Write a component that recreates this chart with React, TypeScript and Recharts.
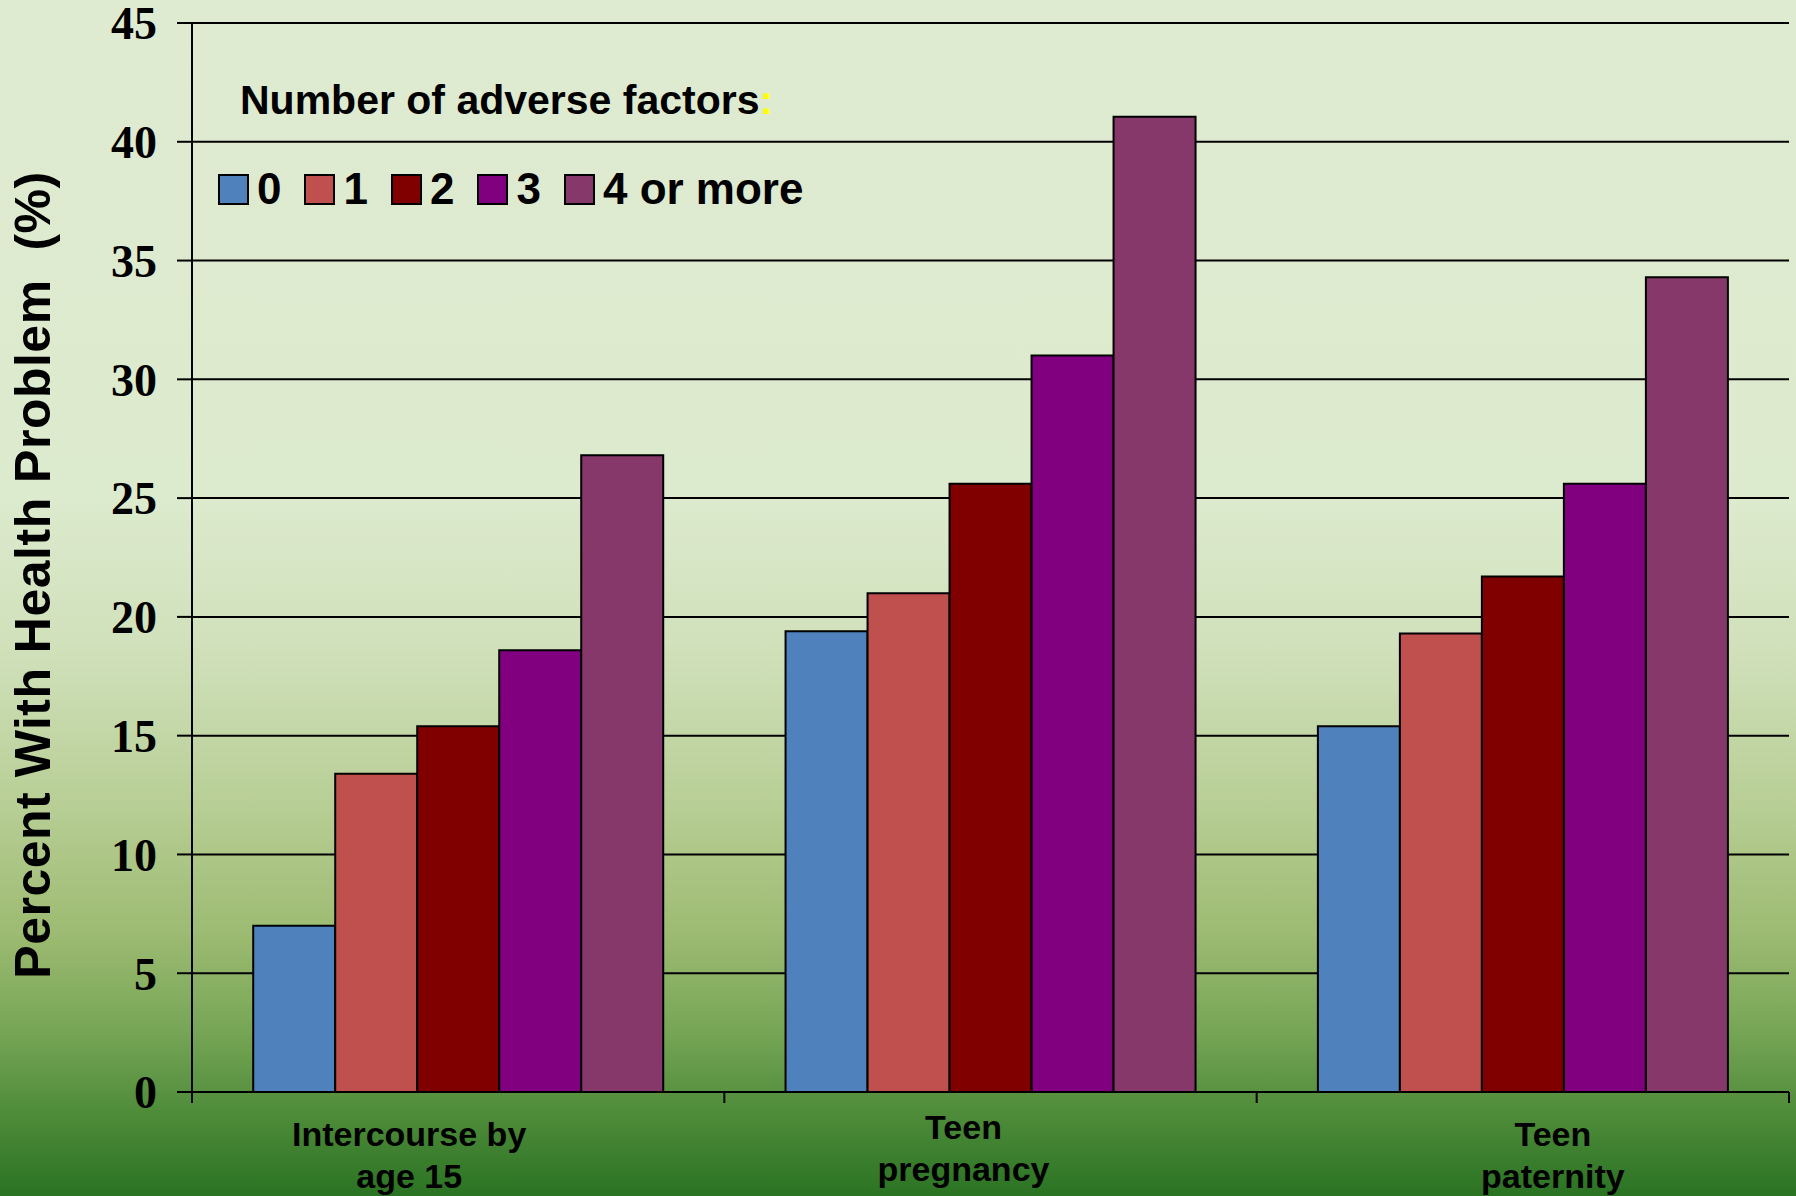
import React from 'react';
import { BarChart, Bar, XAxis, YAxis, CartesianGrid } from 'recharts';

const categories = ['Intercourse by\nage 15', 'Teen\npregnancy', 'Teen\npaternity'];
const factors0 = [7.0, 19.4, 15.4];
const factors1 = [13.4, 21.0, 19.3];
const factors2 = [15.4, 25.6, 21.7];
const factors3 = [18.6, 31.0, 25.6];
const factors4 = [26.8, 41.05, 34.3];
const yTicks = [0, 5, 10, 15, 20, 25, 30, 35, 40, 45];

const seriesNames = ['0', '1', '2', '3', '4 or more'];
const seriesKeys = ['f0', 'f1', 'f2', 'f3', 'f4'];
const seriesColors = ['#4f81bd', '#c0504d', '#800000', '#800080', '#86386a'];

const data = categories.map((c, i) => ({
  name: c,
  f0: factors0[i],
  f1: factors1[i],
  f2: factors2[i],
  f3: factors3[i],
  f4: factors4[i],
}));

const W = 1796;
const H = 1196;
const PLOT_LEFT = 192;
const PLOT_RIGHT = 1789;
const BAND = (PLOT_RIGHT - PLOT_LEFT) / categories.length;

// the original labels are nudged a bit off the category centres
const labelShift = [
  { dx: -49, dy: 0 },
  { dx: -27, dy: -7 },
  { dx: 30, dy: 0 },
];

const sans = '"Liberation Sans", Arial, sans-serif';
const serif = '"Liberation Serif", "Times New Roman", serif';

const CategoryTick = ({ x, y, payload, index }: any) => {
  const lines = String(payload.value).split('\n');
  const shift = labelShift[index] || { dx: 0, dy: 0 };
  const left = x - BAND / 2;
  return (
    <g>
      <line x1={left} y1={y} x2={left} y2={y + 11} stroke="#000" strokeWidth={2} />
      {index === categories.length - 1 && (
        <line x1={left + BAND} y1={y} x2={left + BAND} y2={y + 11} stroke="#000" strokeWidth={2} />
      )}
      <text
        x={x + shift.dx}
        y={y + 54 + shift.dy}
        textAnchor="middle"
        fontFamily={sans}
        fontWeight="bold"
        fontSize={34}
        fill="#000"
      >
        {lines.map((l, i) => (
          <tspan key={i} x={x + shift.dx} dy={i === 0 ? 0 : 42}>
            {l}
          </tspan>
        ))}
      </text>
    </g>
  );
};

const LegendBox = () => (
  <div
    style={{
      position: 'absolute',
      left: 218,
      top: 78,
      fontFamily: sans,
      fontWeight: 'bold',
      color: '#000',
      zIndex: 2,
    }}
  >
    <div style={{ fontSize: 41, lineHeight: '44px', marginLeft: 22, whiteSpace: 'nowrap' }}>
      Number of adverse factors<span style={{ color: '#ffff00' }}>:</span>
    </div>
    <div style={{ display: 'flex', alignItems: 'center', marginTop: 45 }}>
      {seriesNames.map((n, i) => (
        <div key={n} style={{ display: 'flex', alignItems: 'center', marginRight: 23 }}>
          <div
            style={{
              width: 27,
              height: 27,
              background: seriesColors[i],
              border: '2px solid #000',
              marginRight: 8,
            }}
          />
          <span style={{ fontSize: 44, lineHeight: '44px', whiteSpace: 'nowrap' }}>{n}</span>
        </div>
      ))}
    </div>
  </div>
);

export default function App() {
  return (
    <div
      style={{
        position: 'absolute',
        left: 0,
        top: 0,
        width: W,
        height: H,
        overflow: 'hidden',
        background:
          'linear-gradient(to bottom, #dfebd1 0%, #dceacd 42%, #cfe0b9 55%, #b6cd93 68%, #9dbb72 78%, #77a656 86%, #4f8c3a 93%, #2a7323 100%)',
      }}
    >
      <div
        style={{
          position: 'absolute',
          left: 33,
          top: 575,
          transform: 'translate(-50%, -50%) rotate(-90deg)',
          whiteSpace: 'pre',
          fontFamily: sans,
          fontWeight: 'bold',
          fontSize: 50,
          letterSpacing: 0.5,
          color: '#000',
        }}
      >
        {'Percent With Health Problem  (%)'}
      </div>
      <BarChart
        width={W}
        height={H}
        data={data}
        margin={{ top: 23, right: W - PLOT_RIGHT, bottom: 4, left: PLOT_LEFT - 80 }}
        barCategoryGap="11.5%"
        barGap={0}
        style={{ position: 'absolute', left: 0, top: 0 }}
      >
        <CartesianGrid vertical={false} stroke="#000" strokeWidth={2} />
        <XAxis
          dataKey="name"
          height={100}
          axisLine={{ stroke: '#000', strokeWidth: 2 }}
          tickLine={false}
          tickSize={0}
          tickMargin={0}
          interval={0}
          tick={<CategoryTick />}
        />
        <YAxis
          width={80}
          domain={[0, 45]}
          ticks={yTicks}
          interval={0}
          axisLine={{ stroke: '#000', strokeWidth: 2 }}
          tickLine={{ stroke: '#000', strokeWidth: 2 }}
          tickSize={15}
          tickMargin={20}
          tick={{ fontFamily: serif, fontWeight: 'bold', fontSize: 46, fill: '#000' }}
        />
        {seriesKeys.map((k, i) => (
          <Bar
            key={k}
            dataKey={k}
            name={seriesNames[i]}
            fill={seriesColors[i]}
            stroke="#000"
            strokeWidth={2}
            isAnimationActive={false}
          />
        ))}
      </BarChart>
      <LegendBox />
    </div>
  );
}
